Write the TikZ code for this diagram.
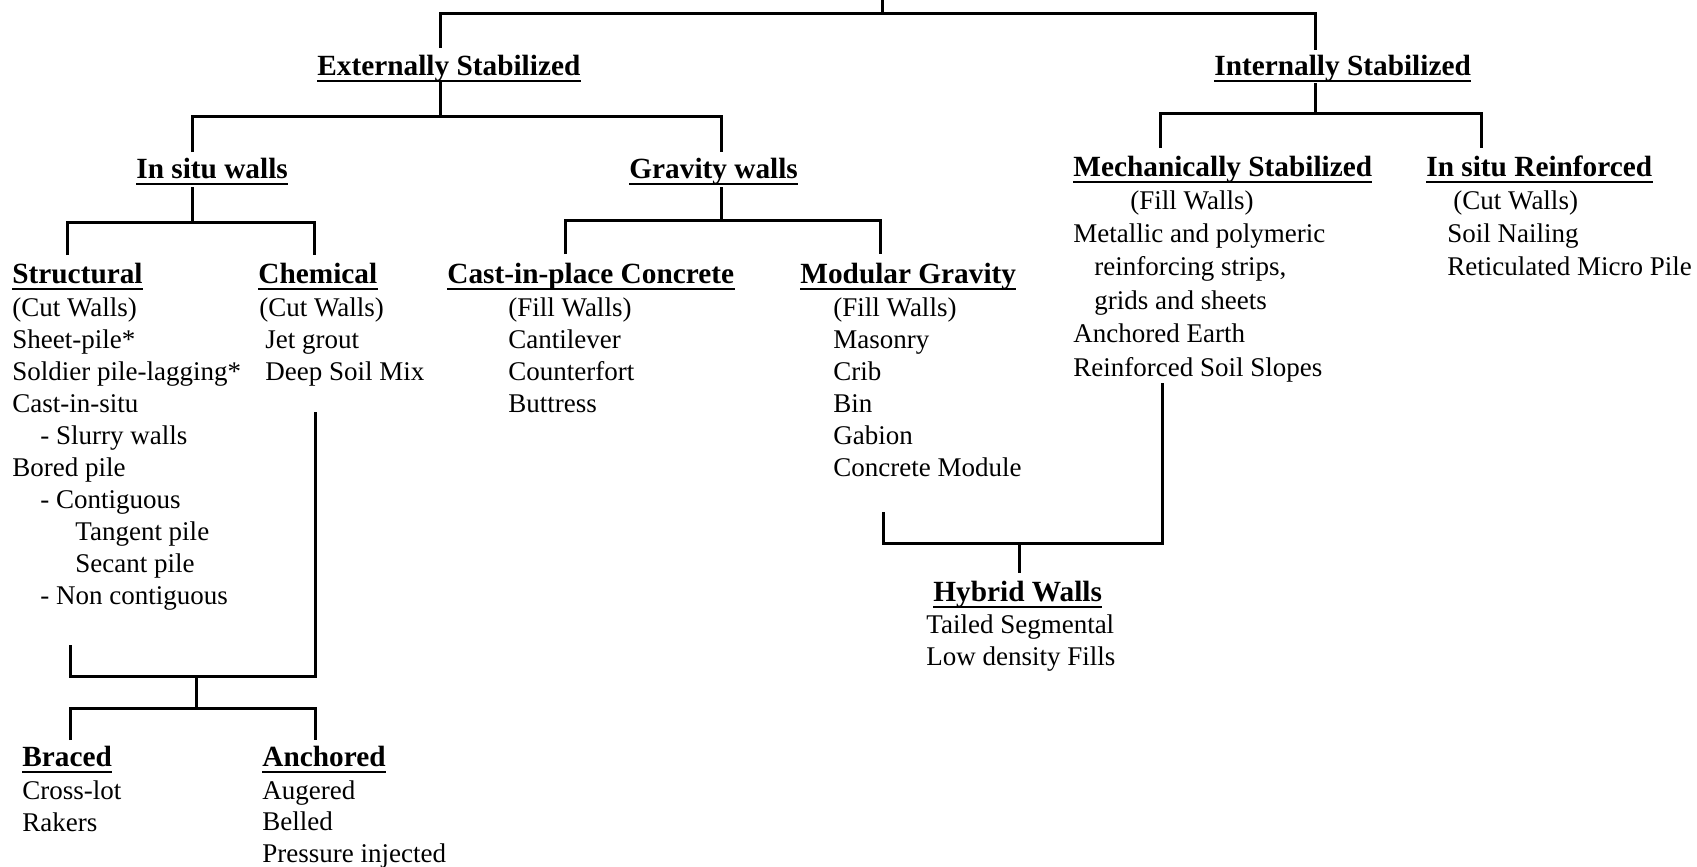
\documentclass[tikz,border=0pt]{standalone}
\usepackage{fontspec}
\setmainfont{Liberation Serif}
\begin{document}
\begin{tikzpicture}[x=0.5pt,y=-0.5pt,
  conn/.style={line width=1.5pt},
  uline/.style={line width=1.4pt},
  head/.style={inner sep=0pt, anchor=base west, font=\fontsize{14.65pt}{16pt}\selectfont\bfseries},
  item/.style={inner sep=0pt, anchor=base west, font=\fontsize{13.5pt}{16pt}\selectfont}]
\useasboundingbox[fill=white] (0,0) rectangle (1697,867);

% headings
\node[head] (ext)    at (317,75)  {Externally Stabilized};
\node[head] (int)    at (1214,75) {Internally Stabilized};
\node[head] (insitu) at (136,178) {In situ walls};
\node[head] (grav)   at (629,178) {Gravity walls};
\node[head] (mech)   at (1073,176) {Mechanically Stabilized};
\node[head] (isr)    at (1426,176) {In situ Reinforced};
\node[head] (struct) at (12,283)  {Structural};
\node[head] (chem)   at (258,283) {Chemical};
\node[head] (cip)    at (447,283) {Cast-in-place Concrete};
\node[head] (mod)    at (800,283) {Modular Gravity};
\node[head] (braced) at (22,766)  {Braced};
\node[head] (anch)   at (262,766) {Anchored};
\node[head] (hyb)    at (933,601) {Hybrid Walls};

\foreach \n in {ext,int,insitu,grav,mech,isr,struct,chem,cip,mod,braced,anch,hyb}
  \draw[uline] ([yshift=-3pt]\n.base west) -- ([yshift=-3pt]\n.base east);

% lists
\foreach [count=\i from 0] \t/\dx in {{(Cut Walls)}/0,{Sheet-pile*}/0,{Soldier pile-lagging*}/0,{Cast-in-situ}/0,{- Slurry walls}/28,{Bored pile}/0,{- Contiguous}/28,{Tangent pile}/63,{Secant pile}/63,{- Non contiguous}/28}
  \node[item] (s\i) at ({12+\dx},{316+32*\i}) {\t};
\foreach [count=\i from 0] \t/\xx in {{(Cut Walls)}/259,{Jet grout}/265,{Deep Soil Mix}/265}
  \node[item] (c\i) at ({\xx},{316+32*\i}) {\t};
\foreach [count=\i from 0] \t in {(Fill Walls),Cantilever,Counterfort,Buttress}
  \node[item] (p\i) at ({508},{316+32*\i}) {\t};
\foreach [count=\i from 0] \t in {(Fill Walls),Masonry,Crib,Bin,Gabion,Concrete Module}
  \node[item] (m\i) at ({833},{316+32*\i}) {\t};
\foreach [count=\i from 0] \t/\xx in {{(Fill Walls)}/1130,{Metallic and polymeric}/1073,{reinforcing strips,}/1094,{grids and sheets}/1094,{Anchored Earth}/1073,{Reinforced Soil Slopes}/1073}
  \node[item] (ms\i) at ({\xx},{209+33.4*\i}) {\t};
\foreach [count=\i from 0] \t/\xx in {{(Cut Walls)}/1453,{Soil Nailing}/1447,{Reticulated Micro Pile}/1447}
  \node[item] (r\i) at ({\xx},{209+33.4*\i}) {\t};
\foreach [count=\i from 0] \t in {Cross-lot,Rakers}
  \node[item] (b\i) at ({22},{799+32*\i}) {\t};
\foreach [count=\i from 0] \t in {Augered,Belled,Pressure injected}
  \node[item] (a\i) at ({262},{799+31.5*\i}) {\t};
\foreach [count=\i from 0] \t in {Tailed Segmental,Low density Fills}
  \node[item] (h\i) at ({926},{633+32*\i}) {\t};

% connector points
\coordinate (root) at (882,0);
\coordinate (rootBar) at (882,13);
\coordinate (extIn) at (440,48);
\coordinate (intIn) at (1315,50);
\coordinate (extOut) at (440,82);
\coordinate (extBar) at (440,116);
\coordinate (insituIn) at (192,152);
\coordinate (gravIn) at (721,152);
\coordinate (intOut) at (1315,83);
\coordinate (intBar) at (1315,113);
\coordinate (mechIn) at (1160,148);
\coordinate (isrIn) at (1481,148);
\coordinate (insituOut) at (192,187);
\coordinate (insituBar) at (192,222);
\coordinate (structIn) at (67,255);
\coordinate (chemIn) at (314,255);
\coordinate (gravOut) at (721,187);
\coordinate (gravBar) at (721,220);
\coordinate (cipIn) at (565,254);
\coordinate (modIn) at (880,254);
\coordinate (mechOut) at (1162,383);
\coordinate (modOut) at (883,512);
\coordinate (hybBar) at (1019,543);
\coordinate (hybIn) at (1019,573);
\coordinate (structOut) at (70,645);
\coordinate (chemOut) at (315,412);
\coordinate (upBar) at (196,676);
\coordinate (lowBar) at (196,708);
\coordinate (bracedIn) at (70,740);
\coordinate (anchIn) at (315,740);

% connectors
\draw[conn] (root) -- (rootBar);
\draw[conn] (extIn) |- (rootBar) -| (intIn);
\draw[conn] (extOut) -- (extBar);
\draw[conn] (insituIn) |- (extBar) -| (gravIn);
\draw[conn] (intOut) -- (intBar);
\draw[conn] (mechIn) |- (intBar) -| (isrIn);
\draw[conn] (insituOut) -- (insituBar);
\draw[conn] (structIn) |- (insituBar) -| (chemIn);
\draw[conn] (gravOut) -- (gravBar);
\draw[conn] (cipIn) |- (gravBar) -| (modIn);
\draw[conn] (modOut) |- (hybBar) -| (mechOut);
\draw[conn] (hybBar) -- (hybIn);
\draw[conn] (structOut) |- (upBar) -| (chemOut);
\draw[conn] (upBar) -- (lowBar);
\draw[conn] (bracedIn) |- (lowBar) -| (anchIn);
\end{tikzpicture}
\end{document}
